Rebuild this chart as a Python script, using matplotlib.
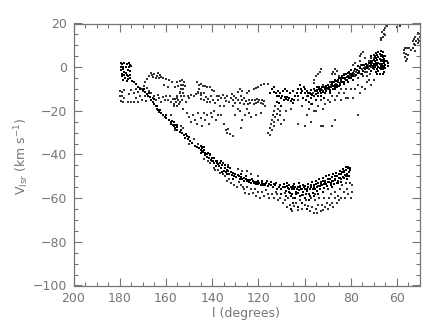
import matplotlib
matplotlib.use("Agg")
import matplotlib.pyplot as plt

# (longitude in degrees, V_lsr in km/s)
start_clump = [(179.6,1.8),(178.8,1.5),(178,2),(177,1.4),(176,1.9),(175.4,1),(179.5,0),(178.4,0.3),(177.4,0.2),(176,0),(175,0.4),
    (179.3,-1.5),(178.6,-1),(178,-2),(177.2,-2.5),(176.4,-1.5),(175.5,-1.8),(178.9,-3),(178,-3.5),(177,-3.5),(176.2,-4),(175.6,-3.5),
    (177.6,-5),(176.4,-5.5),(175.5,-5),(176.8,-6.5),(178.4,-6),(179,-4)]
lower_edge = [(174.6,-6.5),(173.8,-7),(173,-7.8),(172,-9),(171,-10),(170,-10.6),(169,-11.5),(168.2,-12.5),(167.6,-13.2),(167,-13.8),
    (166.5,-15),(165.7,-16),(165,-16.8),(164.5,-18),(164,-19),(163.5,-19.8),(163,-20.5),(162.6,-19.6),(161.4,-22),(160.5,-23),(159.8,-23.4),
    (158.8,-24),(158,-25),(157.6,-26),(157,-26.4),(156.4,-27),(156,-28),(155.4,-27.5),(155,-29),(154,-29.6),(153,-30),(152,-31),
    (151.6,-32.4),(151,-31.6),(150.5,-33),(150,-32),(149.4,-34),(148.5,-34.8),(147.5,-36),(146.5,-36.5),(145.6,-37),(145,-38),(144.5,-37),
    (144.2,-38.4),(143.8,-39),(143.3,-37.8),(143,-39.5),(142.4,-41),(142,-40),(141.5,-41.4),(141,-40.4),(140.5,-42.5),(140,-41.6),(139.5,-43),
    (139,-44),(138.5,-42.8),(138,-44),(137.5,-44.5),(137,-45.4),(136.6,-44),(136,-46),(135.5,-45),(135,-47.5),(134.5,-46),(134,-48),(133.5,-47),
    (133,-47.4),(132.5,-49),(132,-48),(131.5,-49.4),(131,-48.5),(130.5,-50),(130,-49),(129.5,-50.5),(129,-49.6),(128.4,-50),(128,-51),(127.4,-50.4),
    (127,-51),(126.4,-50.6),(126,-52),(125.5,-51),(125,-52),(124.5,-51.5),(124,-52.5),(123.5,-51.5),(123,-53),(122.5,-52),(122,-53),(121.5,-52.4),
    (121,-53.4),(120.5,-52.5),(120,-53.5),(119.5,-53),(119,-54),(118.5,-53),(118,-54),(117.5,-53.4),(117,-54),(116.5,-53),(116,-54.4),(115.5,-53.6)]
band_blobs = [(157.4,-24.6),(156.7,-25.3),(156.2,-26.4),(155.2,-26.3),(144.9,-36.2),(144.1,-36.6),(143.6,-36.4),(144.7,-39.2),(143.2,-40.4),
    (141.7,-39.2),(140.7,-40),(140.2,-43.2),(139.2,-41.8),(138.3,-45.2),(137.8,-43),(136.2,-43),(135.2,-43.8),(134.2,-44.6),(133.3,-45.6),(132.2,-46.4),
    (135.7,-48),(133.7,-49),(131.1,-51),(127.7,-49),(125.2,-50),(122.7,-51),(120.2,-52),(118.2,-52.2),(116.2,-52.2),(114.7,-52.8),(113.2,-53.4),
    (169.4,-9.8),(167.2,-12),(165.3,-14.7),(163.7,-17.6),(162.2,-21),(160.1,-22),(153.4,-28.6),(151.2,-30.4)]
lower_cloud_west = [(158,-22),(156,-29),(153.5,-27),(152.5,-28),(150,-35),(148,-33),(146,-35),(143.5,-42),(141.6,-43),(140.8,-44),(139.2,-46),
    (138.6,-47),(137.4,-47),(136.4,-48.6),(135.4,-49),(134.5,-50),(133.5,-52),(132.6,-51.4),(131.8,-53),(130.6,-54),(129.4,-55),(128.4,-52.6),
    (127.6,-54),(126.8,-55),(126.2,-56),(125.6,-57.6),(124.8,-55),(124,-58),(123.2,-56),(122.4,-57.6),(121.6,-56),(120.8,-59),(120,-57),
    (119.2,-60),(118.4,-57),(117.6,-59),(116.8,-56.4),(116,-58),(115.2,-60),(129,-46.6),(127,-47.4),(125,-47.4),(123,-49),(133,-45),(120,-50)]
lower_band_east = [(114.5,-54),(113.5,-55),(112.6,-54),(112,-56),(111,-55),(110,-56),(109.4,-55),(108.5,-55),(108,-56.6),(107.6,-54.5),(107,-55.4),(106.5,-57),
    (106,-55),(105.6,-56),(105,-54.6),(104.5,-56),(104,-55),(103.5,-57),(103,-55),(102.5,-56.4),(102,-54.6),(101.6,-56),(101,-55.6),(100.5,-57),
    (100,-55.6),(99.6,-54.6),(99,-56.6),(98.5,-55),(98,-58),(97.5,-56),(97,-54),(96.5,-56),(96,-54),(95.5,-56),(95,-53.6),(94.5,-55),(94,-53),
    (93.5,-54.6),(93,-52.6),(92.5,-54),(92,-52),(91.5,-53.4),(91,-52),(90.5,-53.4),(90,-51),(89.5,-52.6),(89,-51),(88.5,-53),(88,-50.4),
    (87.5,-52),(87,-50),(86.6,-51.6),(86,-50),(85.5,-52),(85,-49),(84.6,-50.6),(84,-49),(83.5,-50.4),(83,-48),(82.6,-49.6),(82,-47),(81.6,-49),
    (81,-46.4),(80.6,-48),(80.2,-47),(82,-50),(83,-50.6),(81,-50),(84,-51),(80.5,-46),(86,-53),(88,-55),(90,-56),(92,-57),(94,-58),(96,-59),
    (100,-60),(102,-59),(104,-60),(106,-59),(108,-59),(110,-58),(98,-61),(101,-62),(105,-62.4),(103,-64),(106,-65),(99,-65)]
lower_band_strokes = [(107.4,-53),(106.8,-53.8),(106.2,-57.6),(105.3,-58),(104.7,-53.4),(103.8,-58),(102.7,-57.8),(102.2,-53),(101.2,-58.4),(100.8,-54),
    (99.2,-58),(98.7,-53.6),(97.7,-59),(96.7,-52.4),(96.2,-57.6),(95.2,-52),(94.7,-56.6),(93.7,-51.4),(93.2,-56),(92.2,-50.6),(91.7,-55.4),(90.7,-50),
    (90.2,-54.4),(89.2,-49.4),(88.7,-54),(87.7,-48.8),(87.2,-53.4),(86.2,-48.4),(85.7,-53),(84.7,-47.6),(84.2,-52.4),(83.2,-46.8),(82.2,-45.8),(81.3,-45.6),
    (80.7,-50),(81.7,-51),(82.7,-47.4),(83.7,-48.2),(85.2,-50.6),(86.8,-51),(88.2,-52),(89.8,-52.8),(91.2,-52.8),(92.8,-53.6),(94.2,-54.4),(95.8,-55),
    (97.2,-55),(98.8,-55.6),(100.2,-55),(101.8,-55),(103.2,-56),(104.8,-55.4),(106.7,-56),(108.7,-53.6),(110.7,-54),(112.2,-53)]
lower_cloud_east = [(114,-58),(113,-60),(112,-58),(111.4,-61),(110.5,-60),(109.5,-62),(108.6,-61),(107.6,-64),(107,-60),(106.4,-63),(105.6,-66),
    (105,-60),(104.4,-63.6),(103.6,-62),(102.8,-65.4),(102,-61),(101,-65),(100,-63),(99.4,-61),(98.5,-63.6),(97.8,-66),(97,-60),(96.6,-64),
    (96,-67),(95.4,-61),(95,-65),(94.5,-67),(94,-63),(93.6,-60),(93,-66),(92.4,-63),(92,-65.6),(91.4,-60),(91,-64),(90.4,-62),(90,-65),
    (89.4,-60),(89,-63),(88.4,-58),(88,-62),(87.6,-64),(87,-60),(86.6,-57),(86,-62),(85.6,-59),(85,-61),(84.6,-56),(84,-60),(83.6,-54),
    (83,-57),(82.6,-60),(82,-53),(81.6,-56),(81,-58),(80.5,-53),(80,-60),(79.5,-57),(79.4,-54),(100.6,-58.6),(108.4,-57.6),(112.4,-57),(95.6,-58)]
upper_west = [(180,-11),(179,-11.5),(178,-10.4),(180,-13.4),(179.2,-13),(178.2,-14),(179.6,-15.4),(178.4,-16),(176.4,-16),(175,-16),(173.6,-16),
    (172.8,-14),(172,-16),(171,-13),(170.4,-15),(170,-11),(169,-13),(168.5,-15.4),(168,-9.6),(167.4,-11),(166.6,-12),(165.8,-14),(165,-13),
    (164.2,-15),(163.6,-12.6),(163,-14),(162,-16),(161.4,-13.6),(160.6,-15),(160,-13),(159,-15),(158.4,-13),(157.6,-16),(157,-14.4),(156.4,-18),
    (155.6,-16),(155,-14),(154.4,-17),(154,-12),(153.2,-15),(152.6,-19),(152,-13),(151.4,-16),(150.6,-13),(150,-14),(149,-12.6),(148,-13),
    (147,-12.4),(146,-12),(145,-12.6),(172,-11.6),(171,-9.6),(175,-10.4),(174,-12),(176,-12.4),(173,-10)]
branch_166 = [(170.4,-10),(169.6,-8.6),(169,-7),(168,-5.6),(167.4,-4),(166.6,-2.6),(166,-3.4),(165.4,-4.4),(165,-3),(164.4,-5),(164,-4),(163.6,-2.6),
    (163,-5),(162.6,-3.6),(162,-4.6),(161.2,-5),(160,-5.6),(158.6,-6),(157.4,-7),(156,-9),(159,-9),(161,-8)]
cluster_153 = [(155,-7),(154,-6.4),(153,-6),(152,-6.6),(154.6,-8.6),(153.6,-8),(152.6,-8),(151.8,-8.4),(153.4,-10),(152.4,-10),(154,-11.6),(152.8,-12),
    (155,-13),(153.6,-13.4),(156,-14.6),(154.8,-15),(156.6,-17),(155.4,-17.6),(154,-16)]
cluster_144 = [(146.6,-7),(145.6,-8),(145,-7.6),(144,-8.4),(143,-8.4),(142,-9),(141,-9.2),(140,-10.6),(139,-11),(145.6,-10),(146,-11.4),(144.6,-12),
    (143.4,-12),(142.6,-13.6),(141.6,-14.4),(140.6,-13),(145,-14.4),(143.6,-15),(142.4,-16),(141,-16),(139.8,-15),(138.6,-16.6),(137.6,-15),(138,-13)]
sparse_150 = [(151,-21),(150,-23),(149,-25),(148.4,-22),(147.4,-24),(146.6,-26),(146,-21),(145,-23.4),(144.4,-27),(143.6,-21),(143,-24),(142,-22),
    (141.4,-26),(140.6,-21),(140,-23),(139,-20),(138.4,-24),(137.6,-22),(136.6,-18),(136,-22),(135,-26),(134,-29),(133.4,-30),(133,-28.4),(132.2,-30.6),
    (131,-31.4),(127.6,-28),(127,-24),(125.6,-22),(124,-21),(123,-23),(121,-22),(119,-21),(128,-20),(130,-22)]
cluster_130 = [(137,-13),(136,-14),(135.4,-12.6),(134.6,-14),(134,-15.4),(133.4,-13),(132.8,-16),(132,-14),(131.6,-12.4),(131,-15),(130.5,-13),(130,-16.4),
    (129.6,-14),(129,-11.6),(128.6,-15),(128,-16.6),(127.6,-13),(127,-15),(126.4,-17),(126,-14),(125.4,-15.6),(124.6,-17),(124,-15),(123.4,-16.4),
    (122.6,-15),(122,-17),(121.6,-15),(121,-16.4),(120.6,-14.6),(120,-16),(119.6,-15),(119,-16.6),(118.6,-15),(118,-17),(117.6,-15.6),(117,-18),
    (128,-10),(127,-11),(125,-12),(124,-11),(122,-10),(121,-9.4),(120,-9),(119,-8),(117.6,-7.6),(116,-7.6),(135,-18),(131,-18),(129,-19),(125,-19)]
cluster_112 = [(115,-12),(114,-10),(113.4,-11.6),(113,-9),(112.4,-12),(112,-13.4),(111.4,-11),(111,-13),(110.5,-12),(110,-14),(109.6,-13),(109,-15),
    (108.6,-13.6),(108,-14.6),(107.6,-13.6),(107,-15),(106.5,-14),(106,-15.6),(105.6,-14.4),(105,-16.6),(104.6,-15),(112,-16),(111,-16.4),(110,-18),(112.6,-18),
    (111.4,-19),(110.4,-20),(113,-20),(112,-21.6),(110.6,-22),(113.6,-22),(112.6,-23),(111.4,-24),(114,-24),(113,-25),(114.4,-26),(113.4,-27),(115,-28),
    (114,-29),(116,-30),(115,-31),(110,-26),(108,-20),(106,-19),(109,-24)]
upper_mid = [(103,-10),(102,-8),(101,-11),(100.4,-9),(102.6,-13),(101.6,-12),(100.6,-14),(100,-12),(99.4,-15),(99,-11),(98.6,-13),(98,-16),(97.6,-12),
    (97,-14),(96.6,-17),(96,-13),(95.6,-11),(95,-15),(94.6,-9),(94,-13),(93.6,-10),(93,-12),(92.6,-9),(92,-11),(91.6,-14),(91,-9),(90.6,-11),(90,-8),
    (89.6,-10),(89,-12),(88.6,-9),(88,-7),(87.6,-10),(87,-8),(86.6,-6),(86,-9),(85.6,-7),(85,-5),(84.6,-8),(84,-6),(83.6,-4),(83,-7),(82.6,-5),(82,-3),
    (81.6,-6),(81,-4),(80.6,-2),(80,-5),(79.6,-3),(79,-6),(78.6,-1.6),(78,-4),(77.6,-2),(77,-5),(76.6,-2.6),(76,0),(75.6,-3),(75,-1),(74.6,-4),(74,-2),
    (73.6,0),(73,-2),(72.6,1),(72,-1),(71.6,-3),(71,0),(70.6,2),(70,-1),(99,-13),(96.4,-12),(94.4,-11),(92.4,-10.6),(90.4,-10),(88.4,-8),(86.4,-7.6),
    (84.4,-6.6),(82.4,-5.6),(80.4,-4),(78.4,-3),(76.4,-1.6),(74.4,-0.6),(72.4,0),(92,-8),(89,-7),(87,-6),(85,-4),(83,-3)]
upper_dense = [(98.3,-11.7),(97.3,-10.6),(96.8,-12.8),(95.9,-10.2),(95.2,-12.4),(94.8,-10.4),(94.2,-12),(93.8,-9),(93.3,-11),(92.8,-10),(92.2,-9.2),(91.8,-11.4),
    (91.3,-10.2),(90.8,-8.4),(90.2,-9.6),(89.8,-8),(89.3,-9.2),(88.8,-10.6),(88.2,-7.6),(87.8,-8.8),(87.3,-7),(86.8,-9),(86.2,-6.2),(85.8,-8),(85.3,-6),
    (84.8,-7.2),(84.2,-5),(83.8,-6.6),(83.3,-5),(82.8,-3.8),(82.2,-6),(81.8,-4.4),(81.3,-2.8),(80.8,-5),(80.2,-3),(79.8,-1.4),(79.3,-4.2),(78.8,-2.6),
    (78.2,-0.8),(77.8,-3.4),(77.3,-1.4),(76.8,0.4),(76.2,-2.4),(75.8,-0.4),(75.3,1),(74.8,-1.6),(74.2,0.8),(73.8,-1),(73.3,1.4),(72.8,-0.4),(72.2,2),(71.8,0.6),
    (71.3,-1.6),(70.8,3),(70.2,0.6),(91,-12),(89,-11),(87,-10),(85,-8.6),(83,-7.8),(81,-6.6),(79,-4),(77,-2.6),(75,-3),(73,0.4),(71,2),
    (93,-13.4),(97,-12.4),(100,-10),(101.4,-10),(103.4,-12),(105,-11),(104,-13.4),(106.4,-12),(107.4,-11),(108.4,-10),(109.4,-11)]
upper_fill = [(103,-15),(101,-18),(98,-19),(95,-20),(97,-17),(93,-15),(94,-18),(91,-17),(92,-19),(89,-16),(90,-15),(88,-13),(87,-15),(86,-13),(85,-12),
    (84,-15),(83,-12),(82,-10),(81,-14),(80,-10),(79,-14),(78,-10),(77,-8),(76,-12),(75,-9),(74,-10),(73,-7),(72,-6),(71,-8),(70,-6),(84,-10),(82,-14),
    (96,-20),(97,-25),(99,-22),(100,-27),(103,-26),(93,-27),(92,-27),(88,-27),(77,-22),(87,-24),(96,-6),(95,-4),(94,-3),(93.5,-2),(93,-1),(96,-7.4),
    (87.6,-2),(87,-1),(86.6,-3),(86,-1.6),(88,-3),(76,5),(75.4,6),(74.6,7),(76,3),(75.5,1),(74,4),(78,2),(79,1),(70,4),(72,3),(73,-4),(71,4)]
east_block = [(71,5),(70,5.6),(69,6.6),(68,7),(67,7.4),(66,7),(65.6,5),(71,3),(70,3.4),(69,4),(68,4.6),(67,5),(66,4.6),(65,5),(64.4,3),(71,1),(70,1.4),(69,2),
    (68,2),(67,2.6),(66,2.6),(65,3),(64,2),(70.4,-0.6),(69.4,0),(68,0),(67,0.6),(66,0.6),(65,1),(64,0.4),(69,-2),(68,-1.6),(67,-1),(66,-1),(65,-0.6),
    (68.6,-3),(67.4,-3),(66,-3),(65.4,-2.4),(69.5,5),(68.5,5.6),(67.5,6.2),(66.5,5.8),(65.5,3.8),(69.5,3),(68.5,3.2),(67.5,3.6),(66.5,3.4),(65.5,2),(69.5,1),
    (68.5,1),(67.5,1.4),(66.5,1.6),(65.5,0.2),(67.5,-0.4),(66.5,-0.2),(68.5,-0.8)]
far_east = [(65,18),(64.4,19),(65.6,20),(63,19.6),(60,18.6),(58.6,19),(65.6,15),(66,14),(66.4,16),(65,14.6),(66.8,12.6),(67,13.4),(65.4,17),
    (57,8),(56.4,9),(55.6,8.6),(54.6,9),(57,6.6),(56,6),(55,5.4),(56.6,4.6),(55.6,3.6),(56,3),(54,8),(52,7.6),
    (53,9),(52.4,10.6),(51.6,12),(51,13),(50.6,15),(50.2,14),(52,14),(51,11),(53.2,12),(52,10),(50.4,12),(51,15.6),(52.6,13)]

dark_sets = [start_clump, lower_edge, band_blobs, lower_band_east, lower_band_strokes, east_block, upper_dense,
             cluster_112[:24], upper_mid[:50]]
light_sets = [lower_cloud_west, lower_cloud_east, upper_west, branch_166, cluster_153, cluster_144, sparse_150,
              cluster_130, cluster_112[24:], upper_mid[50:], upper_fill, far_east]

x_ticks = [200, 180, 160, 140, 120, 100, 80, 60]
y_ticks = [20, 0, -20, -40, -60, -80, -100]

plt.rcParams['font.family'] = ['DejaVu Sans']
plt.rcParams['mathtext.default'] = 'regular'
GREY = '#757575'

fig = plt.figure(figsize=(4.42, 3.32), dpi=100)
ax = fig.add_axes([73.5/442, (332-285.5)/332, 346.5/442, 262/332])

for group in light_sets:
    ax.scatter([p[0] for p in group], [p[1] for p in group], s=0.9, marker='s', c='#333333', linewidths=0)
for group in dark_sets:
    ax.scatter([p[0] for p in group], [p[1] for p in group], s=2.6, marker='s', c='black', linewidths=0)

ax.set_xlim(200, 50)
ax.set_ylim(-100, 20)
ax.set_xticks(x_ticks)
ax.set_yticks(y_ticks)
ax.set_xticks(range(55, 200, 5), minor=True)
ax.set_yticks(range(-95, 20, 5), minor=True)
ax.tick_params(which='major', direction='in', length=5.8, width=0.8, color=GREY, top=True, right=True,
               labelcolor=GREY, labelsize=9, pad=4.5)
ax.tick_params(which='minor', direction='in', length=2.9, width=0.8, color=GREY, top=True, right=True)
for s in ax.spines.values():
    s.set_color(GREY)
    s.set_linewidth(0.9)

fig.text(246/442, 1-314/332, 'l (degrees)', color=GREY, fontsize=9, ha='center', va='center')
fig.text(22/442, 1-156/332, r'V$_{lsr}$ (km s$^{-1}$)', color=GREY, fontsize=9, rotation=90, ha='center', va='center')

fig.savefig('out.png', dpi=100)
